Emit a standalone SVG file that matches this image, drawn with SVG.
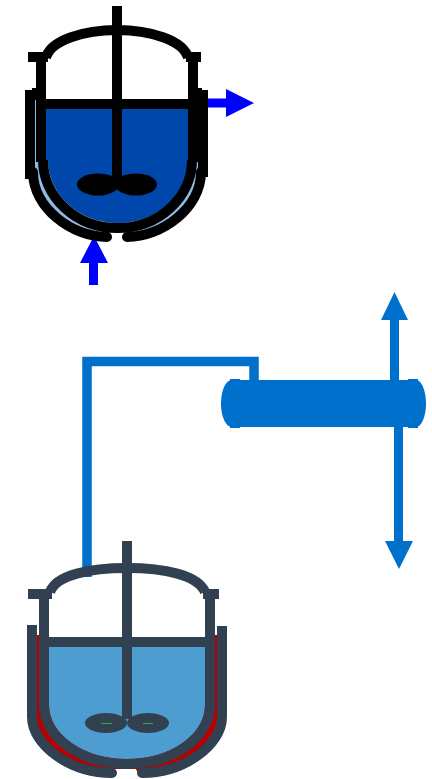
<svg xmlns="http://www.w3.org/2000/svg" width="432" height="779" viewBox="0 0 432 779">
<style>
.s{fill:none;stroke-width:10}
.k{stroke:#000}.d{stroke:#314151}
.fk{fill:#000}.fd{fill:#314151}
.blue{fill:#00f}.cb{fill:#0070cd}
.pipe{fill:none;stroke:#0070cd;stroke-width:9.5}
</style>
<g id="connectors">
<path class="blue" d="M208 98.500H226V89L254 103L226 117V107.500H208Z"/>
<path class="blue" d="M89 285V263H80L94 236L108 263H98V285Z"/>
<path class="pipe" d="M87 577V361.500H254V381"/>
<path class="cb" d="M390 381V320H381L394.500 292L408 320H399V381Z"/>
<path class="cb" d="M394 425V541H385L399 569L413 541H403V425Z"/>
</g>
<g id="reactor-top">
<path d="M35 98V172H33C33 208 72 237 107 237V232H127V237C162 237 201 208 201 172H199V98Z" fill="#8fbce6"/>
<rect x="36" y="98" width="162" height="62" fill="#fff"/>
<path d="M46 105H188V160A70 63 0 0 1 48 160H46Z" fill="#0047ab"/>
<path class="s k" d="M46 58C50 40 85 30 117 30C149 30 184 40 188 58"/>
<path class="s k" d="M41 55V162M193 55V162"/>
<path class="s k" d="M43 160A74.500 68 0 0 0 192 160"/>
<path class="s k" stroke-linecap="round" d="M33 172C33 208 72 237 107 237"/>
<path class="s k" stroke-linecap="round" d="M201 172C201 208 162 237 127 237"/>
<rect class="fk" x="28" y="52" width="20" height="10"/>
<rect class="fk" x="186" y="52" width="15" height="10"/>
<rect class="fk" x="25" y="90" width="10" height="89"/>
<rect class="fk" x="198" y="90" width="10" height="87"/>
<rect class="fk" x="32" y="88" width="4" height="12"/>
<rect class="fk" x="198" y="88" width="4" height="12"/>
<rect class="fk" x="46" y="99" width="142" height="10"/>
<rect class="fk" x="112" y="6" width="10" height="176"/>
<ellipse class="fk" cx="98" cy="184.500" rx="21" ry="11"/>
<ellipse class="fk" cx="136" cy="184.500" rx="21" ry="11"/>
</g>
<g id="condenser">
<path class="cb" d="M232 380H416C422 380 426 392 426 403.500C426 415 422 427 416 427H232C225 427 221 415 221 403.500C221 392 225 380 232 380Z"/>
<rect class="cb" x="230" y="379" width="10" height="49"/>
<rect class="cb" x="408" y="379" width="10" height="49"/>
</g>
<g id="reactor-bottom">
<path d="M37 635H39V705H215V635H217V717H222C222 745 182 773 142 773V769H112V773C70 773 32 745 32 717H37Z" fill="#b80000"/>
<path d="M135 768L141 768V777Z" fill="#b80000"/>
<path d="M49 642H205V705A78 54 0 0 1 49 705Z" fill="#4d9dd0"/>
<path class="s d" d="M50 592C56 575 90 568 127 568C164 568 198 575 205 592"/>
<path class="s d" d="M44 592V705M210 592V705"/>
<path class="s d" d="M44 705A83 59 0 0 0 210 705"/>
<path class="s d" stroke-linecap="round" d="M32 717C32 745 70 773 112 773"/>
<path class="s d" stroke-linecap="round" d="M222 717C222 745 184 773 142 773"/>
<rect class="fd" x="28" y="589" width="24" height="10"/>
<rect class="fd" x="203" y="589" width="16" height="10"/>
<rect class="fd" x="27" y="625" width="10" height="92"/>
<rect class="fd" x="217" y="626" width="10" height="91"/>
<rect class="fd" x="49" y="637" width="156" height="10"/>
<rect class="fd" x="122" y="541" width="10" height="178"/>
<ellipse class="fd" cx="106" cy="723" rx="21" ry="10"/>
<ellipse class="fd" cx="148" cy="723" rx="21" ry="10"/>
<path d="M101 723.500H112M143 723.500H153" stroke="#2ab03a" stroke-width="1" fill="none"/>
</g>
</svg>
